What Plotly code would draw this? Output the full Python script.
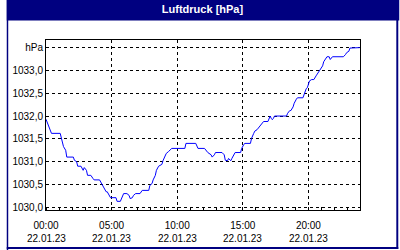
import datetime as dt
import plotly.graph_objects as go

# minutes after 22.01.23 00:00
minutes = [0, 10, 25, 65, 70, 80, 90, 95, 125, 130, 140, 145, 160, 170, 175, 185, 190, 205, 215, 220,
           245, 250, 260, 265, 275, 280, 290, 295, 320, 325, 340, 350, 355, 370, 380, 385, 395, 400, 410, 430,
           440, 470, 475, 485, 490, 500, 505, 515, 520, 530, 535, 545, 550, 560, 565, 575, 635, 640, 685, 695,
           725, 740, 755, 760, 770, 775, 805, 815, 820, 830, 835, 845, 850, 860, 865, 890, 895, 905, 910, 935,
           940, 950, 955, 965, 970, 980, 985, 995, 1015, 1020, 1025, 1030, 1035, 1040, 1045, 1100, 1105, 1115, 1120, 1130,
           1135, 1145, 1150, 1175, 1180, 1185, 1190, 1195, 1200, 1205, 1215, 1225, 1235, 1240, 1250, 1255, 1265, 1270, 1280, 1285,
           1295, 1300, 1310, 1360, 1370, 1375, 1385, 1390, 1435]
pressure = [1031.93, 1031.80, 1031.62, 1031.62, 1031.52, 1031.33, 1031.25, 1031.10, 1031.10, 1031.03,
            1031.00, 1030.90, 1030.90, 1030.81, 1030.87, 1030.81, 1030.70, 1030.70, 1030.63, 1030.60,
            1030.60, 1030.56, 1030.48, 1030.41, 1030.34, 1030.34, 1030.26, 1030.21, 1030.21, 1030.13,
            1030.13, 1030.23, 1030.30, 1030.30, 1030.26, 1030.19, 1030.21, 1030.26, 1030.30, 1030.30,
            1030.37, 1030.37, 1030.48, 1030.52, 1030.60, 1030.70, 1030.81, 1030.90, 1030.92, 1030.94,
            1031.02, 1031.15, 1031.18, 1031.22, 1031.25, 1031.29, 1031.29, 1031.40, 1031.40, 1031.29,
            1031.29, 1031.20, 1031.15, 1031.10, 1031.15, 1031.20, 1031.20, 1031.15, 1031.03, 1031.02,
            1031.07, 1031.02, 1031.07, 1031.15, 1031.20, 1031.20, 1031.29, 1031.38, 1031.40, 1031.40,
            1031.51, 1031.62, 1031.67, 1031.70, 1031.73, 1031.80, 1031.84, 1031.88, 1031.88, 1031.95,
            1032.00, 1031.95, 1031.92, 1031.95, 1032.00, 1032.00, 1032.06, 1032.12, 1032.12, 1032.20,
            1032.28, 1032.37, 1032.40, 1032.40, 1032.47, 1032.55, 1032.60, 1032.62, 1032.70, 1032.77,
            1032.80, 1032.80, 1032.88, 1032.92, 1032.99, 1033.05, 1033.10, 1033.19, 1033.27, 1033.30,
            1033.30, 1033.24, 1033.30, 1033.30, 1033.35, 1033.39, 1033.42, 1033.49, 1033.50]

y_tick_vals = [1030.0, 1030.5, 1031.0, 1031.5, 1032.0, 1032.5, 1033.0, 1033.5]
y_tick_text = ["1030,0", "1030,5", "1031,0", "1031,5", "1032,0", "1032,5", "1033,0", "hPa"]
x_tick_hours = [0, 5, 10, 15, 20]
x_tick_text = ["00:00", "05:00", "10:00", "15:00", "20:00"]
x_date_text = ["22.01.23", "22.01.23", "22.01.23", "22.01.23", "22.01.23"]
title = "Luftdruck [hPa]"

base = dt.datetime(2023, 1, 22, 0, 0)
times = [base + dt.timedelta(minutes=m) for m in minutes]
x_tick_vals = [base + dt.timedelta(hours=h) for h in x_tick_hours]

NAVY = "#000080"
FONT = "Liberation Sans"

fig = go.Figure()
fig.add_trace(go.Scatter(x=times, y=pressure, mode="lines",
                         line=dict(color="#0000ff", width=1), hoverinfo="skip"))

def xp(px):
    return (px - 40) / 320.0

def yp(py):
    return (210 - py) / 170.0

shapes = [
    dict(type="rect", xref="paper", yref="paper", x0=xp(0), x1=xp(400), y0=yp(20.5), y1=yp(0),
         fillcolor=NAVY, line=dict(width=0), layer="above"),
    dict(type="rect", xref="paper", yref="paper", x0=xp(0), x1=xp(1.5), y0=yp(250), y1=yp(0),
         fillcolor=NAVY, line=dict(width=0), layer="above"),
    dict(type="rect", xref="paper", yref="paper", x0=xp(397), x1=xp(399), y0=yp(249), y1=yp(0),
         fillcolor=NAVY, line=dict(width=0), layer="above"),
    dict(type="rect", xref="paper", yref="paper", x0=xp(0), x1=xp(399), y0=yp(249), y1=yp(247),
         fillcolor=NAVY, line=dict(width=0), layer="above"),
]

annotations = [
    dict(x=xv, y=yp(238.5), xref="x", yref="paper", text=t, showarrow=False,
         xanchor="center", yanchor="middle",
         font=dict(family=FONT, size=10, color="black"))
    for xv, t in zip(x_tick_vals, x_date_text)
]

fig.update_layout(
    width=400, height=250,
    margin=dict(l=40, r=40, t=40, b=40),
    paper_bgcolor="white", plot_bgcolor="white",
    showlegend=False,
    shapes=shapes,
    annotations=annotations,
    title=dict(text="<b>" + title + "</b>", x=202.5 / 400, y=1 - 9.5 / 250,
               xanchor="center", yanchor="middle", xref="container", yref="container",
               font=dict(family=FONT, size=11, color="white")),
    font=dict(family=FONT, size=10, color="black"),
)

fig.update_xaxes(
    type="date",
    range=[base, base + dt.timedelta(minutes=1436)],
    tickvals=x_tick_vals, ticktext=x_tick_text,
    showgrid=True, gridcolor="black", gridwidth=1, griddash="3px,3px",
    showline=True, linecolor="black", linewidth=1, mirror=True,
    ticks="", ticklabelstandoff=6, tickfont=dict(family=FONT, size=10, color="black"),
    minor=dict(dtick=3600000, ticks="inside", ticklen=3, tickcolor="black", showgrid=False),
    zeroline=False,
)
fig.update_yaxes(
    range=[1029.94, 1033.667],
    tickvals=y_tick_vals, ticktext=y_tick_text,
    showgrid=True, gridcolor="black", gridwidth=1, griddash="3px,3px",
    showline=True, linecolor="black", linewidth=1, mirror=True,
    ticks="", tickfont=dict(family=FONT, size=10, color="black"),
    zeroline=False,
)

fig.write_html("out.html", config={"displayModeBar": False})
